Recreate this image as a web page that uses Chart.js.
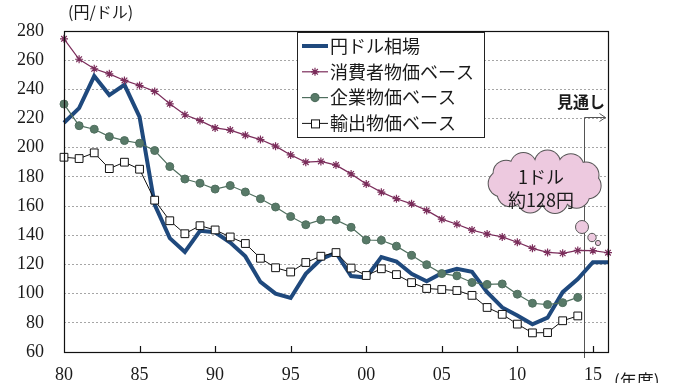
<!DOCTYPE html>
<html lang="ja">
<head>
<meta charset="utf-8">
<title>円ドル相場と購買力平価</title>
<script src="https://cdn.jsdelivr.net/npm/chart.js@4.4.1/dist/chart.umd.min.js"></script>
<style>
  html, body { margin: 0; padding: 0; background: #fff; }
  #chart { display: block; }
</style>
</head>
<body>
<canvas id="chart" width="677" height="383"></canvas>
<script>
// 年度（1980〜2016）
const years = [1980, 1981, 1982, 1983, 1984, 1985, 1986, 1987, 1988, 1989,
               1990, 1991, 1992, 1993, 1994, 1995, 1996, 1997, 1998, 1999,
               2000, 2001, 2002, 2003, 2004, 2005, 2006, 2007, 2008, 2009,
               2010, 2011, 2012, 2013, 2014, 2015, 2016];

// 円ドル相場（15・16年度は見通し）
const yenDollar = [217, 227, 249, 236, 243, 221, 161, 138, 128.5, 143,
                   142, 135, 125.5, 108, 100, 97, 113.5, 123.5, 128, 112,
                   111, 125, 122, 113.5, 108.5, 114, 117, 115, 101, 90.5,
                   85, 79, 83.5, 101, 110, 121.5, 121.5];

// 消費者物価ベース
const cpiBase = [274.5, 260.5, 254, 250.5, 246, 242.5, 238.5, 230, 222.5, 218.5,
                 213.5, 212, 208.5, 205.5, 201, 195, 190, 190.5, 188, 182,
                 175, 169.5, 165, 161.5, 157, 151, 147.5, 143.5, 140.8, 138.8,
                 135.2, 131, 128.2, 127.6, 129.6, 129.4, 128];

// 企業物価ベース
const cgpiBase = [229.8, 215, 212.6, 207.5, 204.8, 203, 198, 187, 178.5, 175.6,
                  171.6, 174, 169.6, 165, 159.3, 152.8, 147.2, 150.5, 150.5, 145.4,
                  136.7, 136.5, 132.5, 126.2, 119.8, 113.7, 112.2, 107.6, 106.3, 106.6,
                  99.6, 93.4, 92.5, 93.8, 97.4, null, null];

// 輸出物価ベース
const exportBase = [193.4, 192.5, 196.4, 185.6, 190, 185.2, 164, 149.9, 141, 146.5,
                    143.6, 138.8, 134.3, 124.2, 117.7, 114.8, 121.3, 125.6, 128.1, 117.5,
                    112.4, 117, 113, 107.5, 103.5, 102.8, 102.1, 98.8, 90.5, 85.8,
                    79.1, 73.1, 73.3, 81.4, 84.7, null, null];

const yMin = 60;
const yMax = 280;
const yStep = 20;

const COLORS = {
    yen: '#1F497D',
    cpi: '#7B2D5B',
    cgpiFill: '#587A68',
    cgpiLine: '#4F6E5E',
    exp: '#111111',
    grid: '#a6a6a6',
    text: '#1a1a1a',
    cloud: '#EDC9DF'
};

const serif = '"Liberation Serif", "DejaVu Serif", serif';
const jp = '"Noto Sans CJK JP", "Noto Sans", sans-serif';

// 凡例のマーカーを描く
function drawMarker(ctx, style, x, y) {
    ctx.save();
    if (style === 'star') {
        ctx.strokeStyle = COLORS.cpi;
        ctx.lineWidth = 1.2;
        ctx.beginPath();
        for (let i = 0; i < 4; i++) {
            const a = i * Math.PI / 4;
            ctx.moveTo(x - 4 * Math.cos(a), y - 4 * Math.sin(a));
            ctx.lineTo(x + 4 * Math.cos(a), y + 4 * Math.sin(a));
        }
        ctx.stroke();
    } else if (style === 'circle') {
        ctx.fillStyle = COLORS.cgpiFill;
        ctx.strokeStyle = COLORS.cgpiLine;
        ctx.beginPath();
        ctx.arc(x, y, 4, 0, Math.PI * 2);
        ctx.fill();
        ctx.stroke();
    } else if (style === 'rect') {
        ctx.fillStyle = '#fff';
        ctx.strokeStyle = COLORS.exp;
        ctx.lineWidth = 1;
        ctx.fillRect(x - 4, y - 4, 8, 8);
        ctx.strokeRect(x - 4 + 0.5, y - 4 + 0.5, 8, 8);
    }
    ctx.restore();
}

// 雲形の吹き出し
function drawCloud(ctx, cx, cy) {
    const lobes = [];
    const n = 11;
    for (let i = 0; i < n; i++) {
        const a = i * Math.PI * 2 / n + 0.2;
        lobes.push([cx + 44 * Math.cos(a), cy + 19 * Math.sin(a), 12.5]);
    }
    const bubbles = [[582, 227, 6.5], [592, 237.5, 4.2], [598, 243, 2.6]];

    ctx.save();
    ctx.strokeStyle = '#555';
    ctx.lineWidth = 2;
    lobes.forEach(l => {
        ctx.beginPath();
        ctx.arc(l[0], l[1], l[2], 0, Math.PI * 2);
        ctx.stroke();
    });
    ctx.fillStyle = COLORS.cloud;
    lobes.forEach(l => {
        ctx.beginPath();
        ctx.arc(l[0], l[1], l[2], 0, Math.PI * 2);
        ctx.fill();
    });
    ctx.beginPath();
    ctx.ellipse(cx, cy, 46, 21, 0, 0, Math.PI * 2);
    ctx.fill();

    ctx.lineWidth = 1;
    bubbles.forEach(b => {
        ctx.beginPath();
        ctx.arc(b[0], b[1], b[2], 0, Math.PI * 2);
        ctx.fill();
        ctx.stroke();
    });

    ctx.fillStyle = COLORS.text;
    ctx.font = '18px ' + jp;
    ctx.textAlign = 'center';
    ctx.textBaseline = 'middle';
    ctx.fillText('1ドル', cx - 4, cy - 5);
    ctx.fillText('約128円', cx - 4, cy + 18);
    ctx.restore();
}

const decorPlugin = {
    id: 'decor',
    beforeDatasetsDraw(chart) {
        // 見通しの区切り線と矢印
        const ctx = chart.ctx;
        const xs = chart.scales.x;
        const x0 = xs.getPixelForValue(34);
        const x1 = xs.getPixelForValue(35);
        const lx = Math.round(x0 + (x1 - x0) * 0.4) + 0.5;
        ctx.save();
        ctx.strokeStyle = '#555';
        ctx.lineWidth = 1;
        ctx.beginPath();
        ctx.moveTo(lx, chart.chartArea.bottom + 6);
        ctx.lineTo(lx, 117.5);
        ctx.lineTo(lx + 21, 117.5);
        ctx.moveTo(lx + 15, 113.5);
        ctx.lineTo(lx + 21, 117.5);
        ctx.lineTo(lx + 15, 121.5);
        ctx.stroke();
        ctx.fillStyle = COLORS.text;
        ctx.font = 'bold 16px ' + jp;
        ctx.textAlign = 'right';
        ctx.textBaseline = 'middle';
        ctx.fillText('見通し', 605, 102);
        ctx.restore();
    },
    afterDraw(chart) {
        const ctx = chart.ctx;
        const area = chart.chartArea;
        const xs = chart.scales.x;

        ctx.save();
        // 枠線
        ctx.strokeStyle = '#111';
        ctx.lineWidth = 1.2;
        ctx.strokeRect(Math.round(area.left) + 0.5, Math.round(area.top) + 0.5,
                       Math.round(area.right - area.left), Math.round(area.bottom - area.top));

        // 内向きの目盛り
        ctx.beginPath();
        years.forEach((y, i) => {
            if (y % 5 === 0 && i > 0) {
                const px = Math.round(xs.getPixelForValue(i)) + 0.5;
                ctx.moveTo(px, area.bottom);
                ctx.lineTo(px, area.bottom - 6);
            }
        });
        ctx.stroke();

        // 単位
        ctx.fillStyle = COLORS.text;
        ctx.font = '16px ' + jp;
        ctx.textBaseline = 'middle';
        ctx.textAlign = 'left';
        ctx.fillText('(円/ドル)', 68, 12);
        ctx.font = '17px ' + jp;
        ctx.fillText('(年度)', 614, 381);

        // 凡例
        const items = [
            { label: chart.data.datasets[0].label, type: 'thick' },
            { label: chart.data.datasets[1].label, type: 'star' },
            { label: chart.data.datasets[2].label, type: 'circle' },
            { label: chart.data.datasets[3].label, type: 'rect' }
        ];
        const bx = 297.5, by = 32.5, bw = 187, bh = 105;
        ctx.fillStyle = '#fff';
        ctx.fillRect(bx, by, bw, bh);
        ctx.strokeStyle = '#222';
        ctx.lineWidth = 1;
        ctx.strokeRect(bx, by, bw, bh);
        ctx.font = '18px ' + jp;
        items.forEach((it, k) => {
            const y = 46 + k * 25.8;
            ctx.beginPath();
            if (it.type === 'thick') {
                ctx.strokeStyle = COLORS.yen;
                ctx.lineWidth = 4;
            } else if (it.type === 'star') {
                ctx.strokeStyle = COLORS.cpi;
                ctx.lineWidth = 1.2;
            } else if (it.type === 'circle') {
                ctx.strokeStyle = COLORS.cgpiLine;
                ctx.lineWidth = 1.2;
            } else {
                ctx.strokeStyle = COLORS.exp;
                ctx.lineWidth = 1;
            }
            ctx.moveTo(302, y);
            ctx.lineTo(328, y);
            ctx.stroke();
            if (it.type !== 'thick') drawMarker(ctx, it.type, 315, y);
            ctx.fillStyle = COLORS.text;
            ctx.fillText(it.label, 330, y);
        });
        ctx.restore();

        drawCloud(ctx, 545, 182);
    }
};

new Chart(document.getElementById('chart'), {
    type: 'line',
    data: {
        labels: years,
        datasets: [
            {
                label: '円ドル相場',
                data: yenDollar,
                borderColor: COLORS.yen,
                borderWidth: 4,
                pointRadius: 0,
                order: 4
            },
            {
                label: '消費者物価ベース',
                data: cpiBase,
                borderColor: COLORS.cpi,
                borderWidth: 1.2,
                pointStyle: 'star',
                pointRadius: 4,
                pointBorderColor: COLORS.cpi,
                pointBorderWidth: 1.2,
                order: 3
            },
            {
                label: '企業物価ベース',
                data: cgpiBase,
                borderColor: COLORS.cgpiLine,
                borderWidth: 1.2,
                pointStyle: 'circle',
                pointRadius: 4,
                pointBackgroundColor: COLORS.cgpiFill,
                pointBorderColor: COLORS.cgpiLine,
                pointBorderWidth: 1,
                order: 2
            },
            {
                label: '輸出物価ベース',
                data: exportBase,
                borderColor: COLORS.exp,
                borderWidth: 1,
                pointStyle: 'rect',
                pointRadius: 5.5,
                pointBackgroundColor: '#fff',
                pointBorderColor: COLORS.exp,
                pointBorderWidth: 1,
                order: 1
            }
        ]
    },
    options: {
        responsive: false,
        animation: false,
        devicePixelRatio: 1,
        layout: { padding: { left: 0, top: 24, right: 69, bottom: 0 } },
        plugins: {
            legend: { display: false },
            tooltip: { enabled: false }
        },
        elements: { line: { tension: 0 } },
        scales: {
            x: {
                offset: false,
                grid: { display: false, drawTicks: false },
                border: { display: false },
                ticks: {
                    autoSkip: false,
                    maxRotation: 0,
                    padding: 12,
                    color: COLORS.text,
                    font: { family: serif, size: 18 },
                    callback: function(value, index) {
                        const y = years[index];
                        return y % 5 === 0 ? String(y).slice(2) : '';
                    }
                },
                afterFit: function(scale) { scale.height = 31; }
            },
            y: {
                min: yMin,
                max: yMax,
                grid: {
                    drawTicks: false,
                    lineWidth: 1,
                    color: ctx => (ctx.tick && (ctx.tick.value === yMin || ctx.tick.value === yMax))
                        ? 'rgba(0,0,0,0)' : COLORS.grid
                },
                border: { display: false, dash: [2, 2] },
                ticks: {
                    stepSize: yStep,
                    padding: 20,
                    color: COLORS.text,
                    font: { family: serif, size: 18 }
                },
                afterFit: function(scale) { scale.width = 64; }
            }
        }
    },
    plugins: [decorPlugin]
});
</script>
</body>
</html>
